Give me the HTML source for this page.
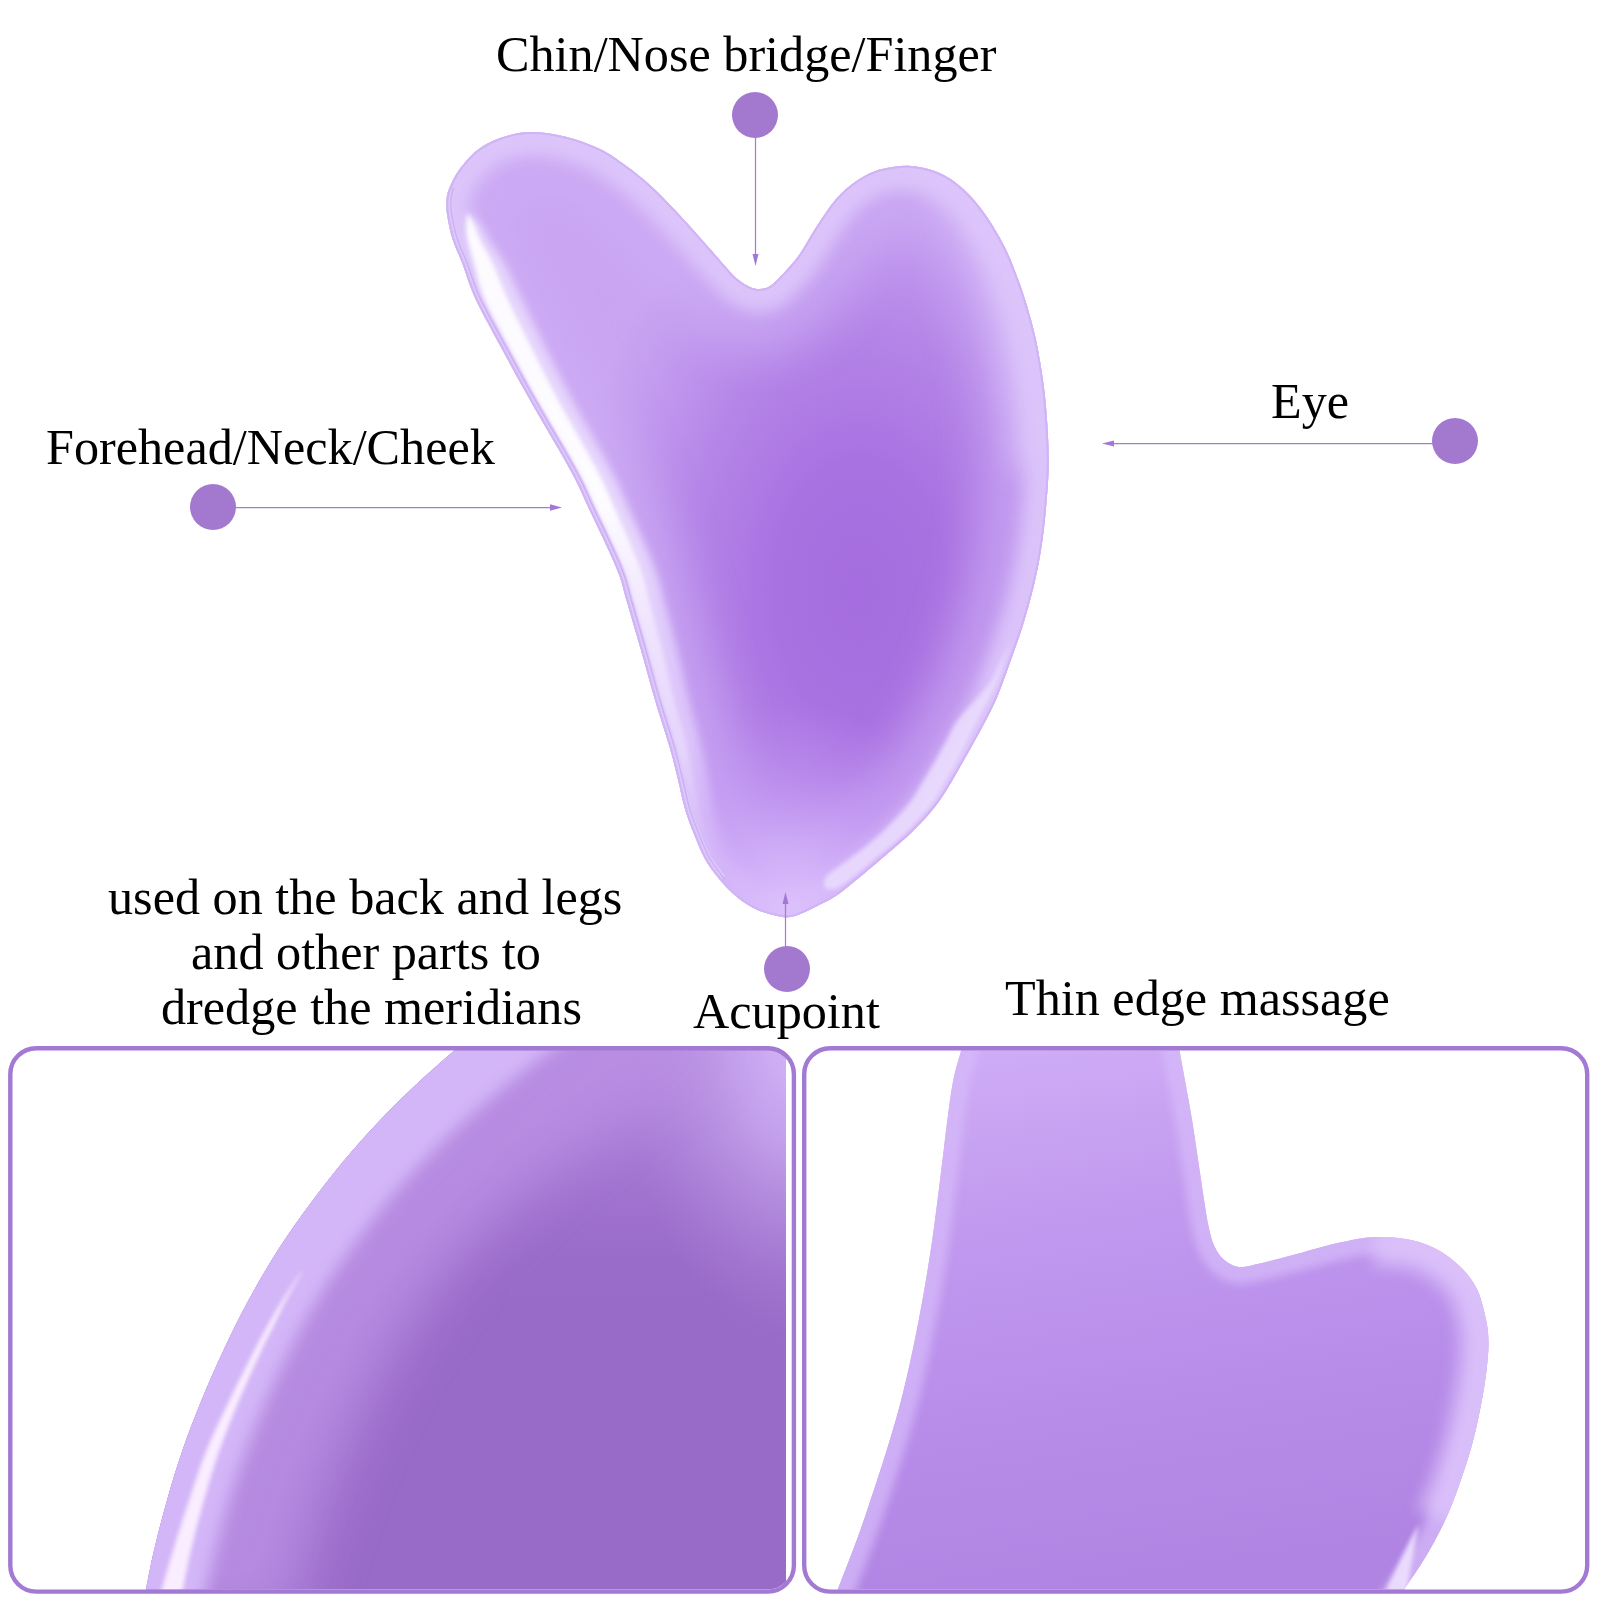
<!DOCTYPE html>
<html><head><meta charset="utf-8"><title>Gua Sha</title>
<style>
html,body{margin:0;padding:0;background:#fff;}
body{width:1600px;height:1600px;position:relative;overflow:hidden;font-family:"Liberation Serif",serif;}
svg{position:absolute;left:0;top:0;}
.t{position:absolute;font-size:50px;line-height:56px;color:#000;white-space:nowrap;transform:scale(1.004,1.025);transform-origin:0 45px;}
</style></head><body>
<svg width="1600" height="1600" viewBox="0 0 1600 1600">
<defs>
<radialGradient id="g1" gradientUnits="userSpaceOnUse" cx="860" cy="590" r="440" gradientTransform="translate(860 590) scale(0.66 1) translate(-860 -590)">
<stop offset="0" stop-color="#a56ddf"/><stop offset="0.3" stop-color="#a972e1"/><stop offset="0.6" stop-color="#b586e8"/><stop offset="0.85" stop-color="#c39bef"/><stop offset="1" stop-color="#caa5f2"/>
</radialGradient>
<clipPath id="cm"><path d="M530.0 132.0C540.8 131.8 553.3 133.7 565.0 136.5C576.7 139.3 590.0 144.2 600.0 149.0C610.0 153.8 616.7 159.0 625.0 165.0C633.3 171.0 641.7 177.5 650.0 185.0C658.3 192.5 666.7 201.2 675.0 210.0C683.3 218.8 691.7 228.2 700.0 237.5C708.3 246.8 718.8 259.1 725.0 266.0C731.2 272.9 733.3 275.5 737.5 279.0C741.7 282.5 746.2 285.3 750.0 287.0C753.8 288.7 756.7 289.2 760.0 289.0C763.3 288.8 766.5 288.2 770.0 286.0C773.5 283.8 776.2 281.2 781.0 276.0C785.8 270.8 792.9 263.5 799.0 255.0C805.1 246.5 811.3 234.3 817.5 225.0C823.7 215.7 829.8 206.2 836.0 199.0C842.2 191.8 848.7 186.6 855.0 182.0C861.3 177.4 867.8 174.0 874.0 171.5C880.2 169.0 886.3 167.9 892.5 167.0C898.7 166.1 904.8 165.6 911.0 166.0C917.2 166.4 923.7 167.5 930.0 169.5C936.3 171.5 942.8 174.1 949.0 178.0C955.2 181.9 961.3 186.8 967.5 193.0C973.7 199.2 979.8 206.4 986.0 215.5C992.2 224.6 999.7 236.9 1005.0 247.5C1010.3 258.1 1014.2 269.0 1018.0 279.0C1021.8 289.0 1024.7 298.1 1027.5 307.5C1030.3 316.9 1032.8 326.1 1035.0 335.5C1037.2 344.9 1038.9 354.6 1040.5 364.0C1042.1 373.4 1043.4 382.7 1044.5 392.0C1045.6 401.3 1046.3 410.3 1047.0 420.0C1047.7 429.7 1048.3 440.8 1048.5 450.0C1048.7 459.2 1048.9 464.6 1048.4 475.0C1047.9 485.4 1046.8 500.0 1045.6 512.5C1044.4 525.0 1043.0 537.5 1041.0 550.0C1039.0 562.5 1036.4 575.0 1033.4 587.5C1030.4 600.0 1026.9 612.5 1023.0 625.0C1019.1 637.5 1014.2 650.8 1010.0 662.5C1005.8 674.2 1002.0 685.4 998.0 695.0C994.0 704.6 991.7 709.2 986.0 720.0C980.3 730.8 971.7 746.7 964.0 760.0C956.3 773.3 948.3 788.3 940.0 800.0C931.7 811.7 924.0 820.0 914.0 830.0C904.0 840.0 892.3 849.5 880.0 860.0C867.7 870.5 849.8 885.7 840.0 893.0C830.2 900.3 827.2 900.7 821.0 904.0C814.8 907.3 807.7 910.8 802.5 913.0C797.3 915.2 794.2 916.5 790.0 917.0C785.8 917.5 782.9 917.2 777.5 916.0C772.1 914.8 764.2 913.1 757.5 910.0C750.8 906.9 743.8 902.5 737.5 897.5C731.2 892.5 725.4 886.4 720.0 880.0C714.6 873.6 709.3 866.7 705.0 859.0C700.7 851.3 697.3 842.3 694.0 834.0C690.7 825.7 687.8 818.4 685.0 809.0C682.2 799.6 680.2 788.2 677.5 777.5C674.8 766.8 672.8 757.9 669.0 745.0C665.2 732.1 659.7 715.8 655.0 700.0C650.3 684.2 645.7 666.3 641.0 650.0C636.3 633.7 630.7 614.7 627.0 602.0C623.3 589.3 622.5 583.9 618.8 574.0C615.1 564.1 609.8 553.0 605.0 542.5C600.2 532.0 594.9 521.4 590.0 511.0C585.1 500.6 580.8 490.2 575.6 480.0C570.4 469.8 566.6 463.3 559.0 450.0C551.4 436.7 539.4 416.7 530.0 400.0C520.6 383.3 511.5 366.7 502.5 350.0C493.5 333.3 482.7 314.3 476.0 300.0C469.3 285.7 466.4 274.2 462.5 264.0C458.6 253.8 455.1 247.3 452.5 239.0C449.9 230.7 448.0 220.3 447.0 214.0C446.0 207.7 446.2 205.2 446.5 201.0C446.8 196.8 446.9 194.2 449.0 189.0C451.1 183.8 454.2 176.5 459.0 170.0C463.8 163.5 470.7 155.3 477.5 150.0C484.3 144.7 491.2 141.0 500.0 138.0C508.8 135.0 519.2 132.2 530.0 132.0Z"/></clipPath>
<filter id="bl8" filterUnits="userSpaceOnUse" x="-100" y="-100" width="1800" height="1800"><feGaussianBlur stdDeviation="8"/></filter>
<filter id="bl4" filterUnits="userSpaceOnUse" x="-100" y="-100" width="1800" height="1800"><feGaussianBlur stdDeviation="4"/></filter>
<filter id="bl2" filterUnits="userSpaceOnUse" x="-100" y="-100" width="1800" height="1800"><feGaussianBlur stdDeviation="2"/></filter>
<filter id="bl22" filterUnits="userSpaceOnUse" x="-100" y="-100" width="1800" height="1800"><feGaussianBlur stdDeviation="22"/></filter>
<filter id="bl14" filterUnits="userSpaceOnUse" x="-100" y="-100" width="1800" height="1800"><feGaussianBlur stdDeviation="14"/></filter>
<clipPath id="cb1"><path d="M640.0 930.0C627.5 936.3 587.5 954.7 565.0 968.0C542.5 981.3 523.3 996.3 505.0 1010.0C486.7 1023.7 472.5 1035.0 455.0 1050.0C437.5 1065.0 417.0 1083.3 400.0 1100.0C383.0 1116.7 367.5 1133.3 353.0 1150.0C338.5 1166.7 325.5 1183.3 313.0 1200.0C300.5 1216.7 288.7 1233.3 278.0 1250.0C267.3 1266.7 257.7 1283.3 248.6 1300.0C239.5 1316.7 231.4 1333.3 223.6 1350.0C215.8 1366.7 208.4 1383.3 201.6 1400.0C194.8 1416.7 188.3 1433.3 182.6 1450.0C176.8 1466.7 171.8 1483.3 167.1 1500.0C162.3 1516.7 157.6 1535.2 154.1 1550.0C150.6 1564.8 147.8 1580.1 146.0 1588.8C144.2 1597.4 143.8 1599.8 143.3 1602.0L800 1602L800 930Z"/></clipPath>
<clipPath id="cb2"><path d="M975.0 1000.0C973.5 1005.0 968.3 1021.6 966.0 1030.0C963.7 1038.4 963.3 1042.4 961.2 1050.3C959.2 1058.2 956.0 1066.7 953.8 1077.5C951.5 1088.3 949.7 1102.5 948.0 1115.0C946.3 1127.5 944.9 1140.0 943.4 1152.5C941.9 1165.0 940.3 1177.5 938.8 1190.0C937.2 1202.5 935.7 1215.0 934.0 1227.5C932.3 1240.0 930.4 1252.5 928.4 1265.0C926.4 1277.5 924.4 1289.5 922.0 1302.5C919.6 1315.5 917.4 1327.8 914.2 1343.0C911.0 1358.2 906.9 1377.5 902.8 1393.8C898.7 1410.0 894.4 1425.0 889.7 1440.6C885.0 1456.2 879.9 1471.9 874.7 1487.5C869.5 1503.1 864.9 1517.5 858.8 1534.4C852.6 1551.3 844.8 1571.2 838.0 1588.8C831.2 1606.3 821.3 1631.5 818.0 1640.0L1368.0 1640.0C1374.0 1631.6 1394.4 1603.2 1404.0 1589.4C1413.6 1575.6 1418.8 1568.3 1425.5 1557.0C1432.2 1545.7 1439.0 1533.5 1444.5 1521.7C1450.0 1509.9 1454.2 1498.7 1458.8 1486.0C1463.3 1473.3 1468.3 1458.3 1471.8 1445.6C1475.3 1432.9 1477.6 1421.9 1480.0 1410.0C1482.4 1398.1 1484.6 1385.5 1486.0 1374.4C1487.4 1363.3 1488.5 1352.6 1488.5 1343.5C1488.5 1334.4 1487.8 1328.5 1486.0 1319.8C1484.2 1311.0 1481.5 1299.3 1477.8 1291.0C1474.0 1282.7 1469.8 1276.7 1463.5 1270.0C1457.2 1263.3 1448.5 1255.9 1439.8 1250.9C1431.0 1245.9 1421.7 1242.3 1411.0 1240.0C1400.3 1237.7 1387.4 1236.6 1375.6 1237.0C1363.8 1237.4 1354.1 1239.5 1340.0 1242.6C1325.9 1245.7 1305.0 1252.0 1291.2 1255.6C1277.5 1259.2 1266.2 1262.1 1257.5 1264.0C1248.8 1265.9 1244.4 1267.7 1238.8 1266.9C1233.1 1266.1 1227.8 1262.8 1223.8 1259.4C1219.7 1256.0 1216.9 1251.6 1214.4 1246.2C1211.9 1240.9 1210.5 1235.3 1208.8 1227.5C1207.0 1219.7 1205.7 1210.3 1204.0 1199.4C1202.3 1188.5 1200.3 1174.5 1198.4 1162.0C1196.5 1149.5 1194.8 1136.9 1192.8 1124.4C1190.8 1111.9 1188.4 1099.2 1186.2 1087.0C1184.1 1074.8 1182.2 1065.8 1179.7 1051.2C1177.2 1036.8 1172.5 1008.5 1171.0 1000.0Z"/></clipPath>
<filter id="bl30" filterUnits="userSpaceOnUse" x="-100" y="-100" width="1800" height="1800"><feGaussianBlur stdDeviation="30"/></filter>
<clipPath id="c1"><rect x="12.3" y="1050.2" width="779.6" height="539.4" rx="24"/></clipPath>
<clipPath id="c1b"><rect x="0" y="1040" width="786" height="560"/></clipPath>
<clipPath id="c2"><rect x="806.2" y="1050.2" width="779" height="539.4" rx="24"/></clipPath>
<radialGradient id="g2" gradientUnits="userSpaceOnUse" cx="620" cy="1420" r="420">
<stop offset="0" stop-color="#986ac7"/><stop offset="0.55" stop-color="#9e70cd"/><stop offset="0.85" stop-color="#b68ae0"/><stop offset="1" stop-color="#c9a6f0"/>
</radialGradient>
<linearGradient id="g3" gradientUnits="userSpaceOnUse" x1="1000" y1="1050" x2="1080" y2="1590">
<stop offset="0" stop-color="#cfacf6"/><stop offset="0.3" stop-color="#c29aef"/><stop offset="0.65" stop-color="#b88dea"/><stop offset="1" stop-color="#b084e2"/>
</linearGradient>
<linearGradient id="tb1" gradientUnits="userSpaceOnUse" x1="0" y1="1050" x2="0" y2="1300">
<stop offset="0" stop-color="#ba90e4" stop-opacity="1"/><stop offset="0.35" stop-color="#ae82da" stop-opacity="0.8"/><stop offset="1" stop-color="#9d6fcd" stop-opacity="0"/>
</linearGradient>
<radialGradient id="tr1" gradientUnits="userSpaceOnUse" cx="800" cy="1040" r="300" gradientTransform="translate(800 1040) scale(0.6 1) translate(-800 -1040)">
<stop offset="0" stop-color="#d4b6f8" stop-opacity="1"/><stop offset="0.35" stop-color="#caa8f0" stop-opacity="0.8"/><stop offset="1" stop-color="#b088dc" stop-opacity="0"/>
</radialGradient>
<radialGradient id="bg1"><stop offset="0" stop-color="#dcc2fc" stop-opacity="0.95"/><stop offset="0.3" stop-color="#d4b4fa" stop-opacity="0.75"/><stop offset="0.65" stop-color="#c79ef5" stop-opacity="0.4"/><stop offset="1" stop-color="#bd8ff0" stop-opacity="0"/></radialGradient>
<linearGradient id="lb1" gradientUnits="userSpaceOnUse" x1="0" y1="200" x2="0" y2="880">
<stop offset="0" stop-color="#fff" stop-opacity="0.9"/><stop offset="0.45" stop-color="#fff" stop-opacity="0.92"/><stop offset="0.62" stop-color="#f6eeff" stop-opacity="0.7"/><stop offset="0.8" stop-color="#eee2fe" stop-opacity="0.55"/><stop offset="1" stop-color="#eadcfd" stop-opacity="0.5"/>
</linearGradient>
<linearGradient id="lb2" gradientUnits="userSpaceOnUse" x1="0" y1="200" x2="0" y2="880">
<stop offset="0" stop-color="#e9dafd" stop-opacity="0.9"/><stop offset="0.5" stop-color="#e9dafd" stop-opacity="0.9"/><stop offset="0.75" stop-color="#dfcafb" stop-opacity="0.8"/><stop offset="1" stop-color="#dcc4fb" stop-opacity="0.7"/>
</linearGradient>
</defs>
<!-- main shape -->
<path d="M530.0 132.0C540.8 131.8 553.3 133.7 565.0 136.5C576.7 139.3 590.0 144.2 600.0 149.0C610.0 153.8 616.7 159.0 625.0 165.0C633.3 171.0 641.7 177.5 650.0 185.0C658.3 192.5 666.7 201.2 675.0 210.0C683.3 218.8 691.7 228.2 700.0 237.5C708.3 246.8 718.8 259.1 725.0 266.0C731.2 272.9 733.3 275.5 737.5 279.0C741.7 282.5 746.2 285.3 750.0 287.0C753.8 288.7 756.7 289.2 760.0 289.0C763.3 288.8 766.5 288.2 770.0 286.0C773.5 283.8 776.2 281.2 781.0 276.0C785.8 270.8 792.9 263.5 799.0 255.0C805.1 246.5 811.3 234.3 817.5 225.0C823.7 215.7 829.8 206.2 836.0 199.0C842.2 191.8 848.7 186.6 855.0 182.0C861.3 177.4 867.8 174.0 874.0 171.5C880.2 169.0 886.3 167.9 892.5 167.0C898.7 166.1 904.8 165.6 911.0 166.0C917.2 166.4 923.7 167.5 930.0 169.5C936.3 171.5 942.8 174.1 949.0 178.0C955.2 181.9 961.3 186.8 967.5 193.0C973.7 199.2 979.8 206.4 986.0 215.5C992.2 224.6 999.7 236.9 1005.0 247.5C1010.3 258.1 1014.2 269.0 1018.0 279.0C1021.8 289.0 1024.7 298.1 1027.5 307.5C1030.3 316.9 1032.8 326.1 1035.0 335.5C1037.2 344.9 1038.9 354.6 1040.5 364.0C1042.1 373.4 1043.4 382.7 1044.5 392.0C1045.6 401.3 1046.3 410.3 1047.0 420.0C1047.7 429.7 1048.3 440.8 1048.5 450.0C1048.7 459.2 1048.9 464.6 1048.4 475.0C1047.9 485.4 1046.8 500.0 1045.6 512.5C1044.4 525.0 1043.0 537.5 1041.0 550.0C1039.0 562.5 1036.4 575.0 1033.4 587.5C1030.4 600.0 1026.9 612.5 1023.0 625.0C1019.1 637.5 1014.2 650.8 1010.0 662.5C1005.8 674.2 1002.0 685.4 998.0 695.0C994.0 704.6 991.7 709.2 986.0 720.0C980.3 730.8 971.7 746.7 964.0 760.0C956.3 773.3 948.3 788.3 940.0 800.0C931.7 811.7 924.0 820.0 914.0 830.0C904.0 840.0 892.3 849.5 880.0 860.0C867.7 870.5 849.8 885.7 840.0 893.0C830.2 900.3 827.2 900.7 821.0 904.0C814.8 907.3 807.7 910.8 802.5 913.0C797.3 915.2 794.2 916.5 790.0 917.0C785.8 917.5 782.9 917.2 777.5 916.0C772.1 914.8 764.2 913.1 757.5 910.0C750.8 906.9 743.8 902.5 737.5 897.5C731.2 892.5 725.4 886.4 720.0 880.0C714.6 873.6 709.3 866.7 705.0 859.0C700.7 851.3 697.3 842.3 694.0 834.0C690.7 825.7 687.8 818.4 685.0 809.0C682.2 799.6 680.2 788.2 677.5 777.5C674.8 766.8 672.8 757.9 669.0 745.0C665.2 732.1 659.7 715.8 655.0 700.0C650.3 684.2 645.7 666.3 641.0 650.0C636.3 633.7 630.7 614.7 627.0 602.0C623.3 589.3 622.5 583.9 618.8 574.0C615.1 564.1 609.8 553.0 605.0 542.5C600.2 532.0 594.9 521.4 590.0 511.0C585.1 500.6 580.8 490.2 575.6 480.0C570.4 469.8 566.6 463.3 559.0 450.0C551.4 436.7 539.4 416.7 530.0 400.0C520.6 383.3 511.5 366.7 502.5 350.0C493.5 333.3 482.7 314.3 476.0 300.0C469.3 285.7 466.4 274.2 462.5 264.0C458.6 253.8 455.1 247.3 452.5 239.0C449.9 230.7 448.0 220.3 447.0 214.0C446.0 207.7 446.2 205.2 446.5 201.0C446.8 196.8 446.9 194.2 449.0 189.0C451.1 183.8 454.2 176.5 459.0 170.0C463.8 163.5 470.7 155.3 477.5 150.0C484.3 144.7 491.2 141.0 500.0 138.0C508.8 135.0 519.2 132.2 530.0 132.0Z" fill="url(#g1)"/>
<g clip-path="url(#cm)">
<path d="M530.0 132.0C540.8 131.8 553.3 133.7 565.0 136.5C576.7 139.3 590.0 144.2 600.0 149.0C610.0 153.8 616.7 159.0 625.0 165.0C633.3 171.0 641.7 177.5 650.0 185.0C658.3 192.5 666.7 201.2 675.0 210.0C683.3 218.8 691.7 228.2 700.0 237.5C708.3 246.8 718.8 259.1 725.0 266.0C731.2 272.9 733.3 275.5 737.5 279.0C741.7 282.5 746.2 285.3 750.0 287.0C753.8 288.7 756.7 289.2 760.0 289.0C763.3 288.8 766.5 288.2 770.0 286.0C773.5 283.8 776.2 281.2 781.0 276.0C785.8 270.8 792.9 263.5 799.0 255.0C805.1 246.5 811.3 234.3 817.5 225.0C823.7 215.7 829.8 206.2 836.0 199.0C842.2 191.8 848.7 186.6 855.0 182.0C861.3 177.4 867.8 174.0 874.0 171.5C880.2 169.0 886.3 167.9 892.5 167.0C898.7 166.1 904.8 165.6 911.0 166.0C917.2 166.4 923.7 167.5 930.0 169.5C936.3 171.5 942.8 174.1 949.0 178.0C955.2 181.9 961.3 186.8 967.5 193.0C973.7 199.2 979.8 206.4 986.0 215.5C992.2 224.6 999.7 236.9 1005.0 247.5C1010.3 258.1 1014.2 269.0 1018.0 279.0C1021.8 289.0 1024.7 298.1 1027.5 307.5C1030.3 316.9 1032.8 326.1 1035.0 335.5C1037.2 344.9 1038.9 354.6 1040.5 364.0C1042.1 373.4 1043.4 382.7 1044.5 392.0C1045.6 401.3 1046.3 410.3 1047.0 420.0C1047.7 429.7 1048.3 440.8 1048.5 450.0C1048.7 459.2 1048.9 464.6 1048.4 475.0C1047.9 485.4 1046.8 500.0 1045.6 512.5C1044.4 525.0 1043.0 537.5 1041.0 550.0C1039.0 562.5 1036.4 575.0 1033.4 587.5C1030.4 600.0 1026.9 612.5 1023.0 625.0C1019.1 637.5 1014.2 650.8 1010.0 662.5C1005.8 674.2 1002.0 685.4 998.0 695.0C994.0 704.6 991.7 709.2 986.0 720.0C980.3 730.8 971.7 746.7 964.0 760.0C956.3 773.3 948.3 788.3 940.0 800.0C931.7 811.7 924.0 820.0 914.0 830.0C904.0 840.0 892.3 849.5 880.0 860.0C867.7 870.5 849.8 885.7 840.0 893.0C830.2 900.3 827.2 900.7 821.0 904.0C814.8 907.3 807.7 910.8 802.5 913.0C797.3 915.2 794.2 916.5 790.0 917.0C785.8 917.5 782.9 917.2 777.5 916.0C772.1 914.8 764.2 913.1 757.5 910.0C750.8 906.9 743.8 902.5 737.5 897.5C731.2 892.5 725.4 886.4 720.0 880.0C714.6 873.6 709.3 866.7 705.0 859.0C700.7 851.3 697.3 842.3 694.0 834.0C690.7 825.7 687.8 818.4 685.0 809.0C682.2 799.6 680.2 788.2 677.5 777.5C674.8 766.8 672.8 757.9 669.0 745.0C665.2 732.1 659.7 715.8 655.0 700.0C650.3 684.2 645.7 666.3 641.0 650.0C636.3 633.7 630.7 614.7 627.0 602.0C623.3 589.3 622.5 583.9 618.8 574.0C615.1 564.1 609.8 553.0 605.0 542.5C600.2 532.0 594.9 521.4 590.0 511.0C585.1 500.6 580.8 490.2 575.6 480.0C570.4 469.8 566.6 463.3 559.0 450.0C551.4 436.7 539.4 416.7 530.0 400.0C520.6 383.3 511.5 366.7 502.5 350.0C493.5 333.3 482.7 314.3 476.0 300.0C469.3 285.7 466.4 274.2 462.5 264.0C458.6 253.8 455.1 247.3 452.5 239.0C449.9 230.7 448.0 220.3 447.0 214.0C446.0 207.7 446.2 205.2 446.5 201.0C446.8 196.8 446.9 194.2 449.0 189.0C451.1 183.8 454.2 176.5 459.0 170.0C463.8 163.5 470.7 155.3 477.5 150.0C484.3 144.7 491.2 141.0 500.0 138.0C508.8 135.0 519.2 132.2 530.0 132.0Z" fill="none" stroke="#cfaff6" stroke-width="130" filter="url(#bl22)" opacity="0.6"/>
<path d="M530.0 132.0C540.8 131.8 553.3 133.7 565.0 136.5C576.7 139.3 590.0 144.2 600.0 149.0C610.0 153.8 616.7 159.0 625.0 165.0C633.3 171.0 641.7 177.5 650.0 185.0C658.3 192.5 666.7 201.2 675.0 210.0C683.3 218.8 691.7 228.2 700.0 237.5C708.3 246.8 718.8 259.1 725.0 266.0C731.2 272.9 733.3 275.5 737.5 279.0C741.7 282.5 746.2 285.3 750.0 287.0C753.8 288.7 756.7 289.2 760.0 289.0C763.3 288.8 766.5 288.2 770.0 286.0C773.5 283.8 776.2 281.2 781.0 276.0C785.8 270.8 792.9 263.5 799.0 255.0C805.1 246.5 811.3 234.3 817.5 225.0C823.7 215.7 829.8 206.2 836.0 199.0C842.2 191.8 848.7 186.6 855.0 182.0C861.3 177.4 867.8 174.0 874.0 171.5C880.2 169.0 886.3 167.9 892.5 167.0C898.7 166.1 904.8 165.6 911.0 166.0C917.2 166.4 923.7 167.5 930.0 169.5C936.3 171.5 942.8 174.1 949.0 178.0C955.2 181.9 961.3 186.8 967.5 193.0C973.7 199.2 979.8 206.4 986.0 215.5C992.2 224.6 999.7 236.9 1005.0 247.5C1010.3 258.1 1014.2 269.0 1018.0 279.0C1021.8 289.0 1024.7 298.1 1027.5 307.5C1030.3 316.9 1032.8 326.1 1035.0 335.5C1037.2 344.9 1038.9 354.6 1040.5 364.0C1042.1 373.4 1043.4 382.7 1044.5 392.0C1045.6 401.3 1046.3 410.3 1047.0 420.0C1047.7 429.7 1048.3 440.8 1048.5 450.0C1048.7 459.2 1048.9 464.6 1048.4 475.0C1047.9 485.4 1046.8 500.0 1045.6 512.5C1044.4 525.0 1043.0 537.5 1041.0 550.0C1039.0 562.5 1036.4 575.0 1033.4 587.5C1030.4 600.0 1026.9 612.5 1023.0 625.0C1019.1 637.5 1014.2 650.8 1010.0 662.5C1005.8 674.2 1002.0 685.4 998.0 695.0C994.0 704.6 991.7 709.2 986.0 720.0C980.3 730.8 971.7 746.7 964.0 760.0C956.3 773.3 948.3 788.3 940.0 800.0C931.7 811.7 924.0 820.0 914.0 830.0C904.0 840.0 892.3 849.5 880.0 860.0C867.7 870.5 849.8 885.7 840.0 893.0C830.2 900.3 827.2 900.7 821.0 904.0C814.8 907.3 807.7 910.8 802.5 913.0C797.3 915.2 794.2 916.5 790.0 917.0C785.8 917.5 782.9 917.2 777.5 916.0C772.1 914.8 764.2 913.1 757.5 910.0C750.8 906.9 743.8 902.5 737.5 897.5C731.2 892.5 725.4 886.4 720.0 880.0C714.6 873.6 709.3 866.7 705.0 859.0C700.7 851.3 697.3 842.3 694.0 834.0C690.7 825.7 687.8 818.4 685.0 809.0C682.2 799.6 680.2 788.2 677.5 777.5C674.8 766.8 672.8 757.9 669.0 745.0C665.2 732.1 659.7 715.8 655.0 700.0C650.3 684.2 645.7 666.3 641.0 650.0C636.3 633.7 630.7 614.7 627.0 602.0C623.3 589.3 622.5 583.9 618.8 574.0C615.1 564.1 609.8 553.0 605.0 542.5C600.2 532.0 594.9 521.4 590.0 511.0C585.1 500.6 580.8 490.2 575.6 480.0C570.4 469.8 566.6 463.3 559.0 450.0C551.4 436.7 539.4 416.7 530.0 400.0C520.6 383.3 511.5 366.7 502.5 350.0C493.5 333.3 482.7 314.3 476.0 300.0C469.3 285.7 466.4 274.2 462.5 264.0C458.6 253.8 455.1 247.3 452.5 239.0C449.9 230.7 448.0 220.3 447.0 214.0C446.0 207.7 446.2 205.2 446.5 201.0C446.8 196.8 446.9 194.2 449.0 189.0C451.1 183.8 454.2 176.5 459.0 170.0C463.8 163.5 470.7 155.3 477.5 150.0C484.3 144.7 491.2 141.0 500.0 138.0C508.8 135.0 519.2 132.2 530.0 132.0Z" fill="none" stroke="#dec8fb" stroke-width="46" filter="url(#bl8)" opacity="0.9"/>
<path d="M905 150C980 170 1030 300 1038 470" fill="none" stroke="#dcc5fa" stroke-width="50" filter="url(#bl14)" opacity="0.75"/>
<path d="M467.5 214.0C467.3 216.0 466.5 221.8 466.5 226.0C466.5 230.2 466.3 232.7 467.6 239.0C468.9 245.3 471.3 253.8 474.2 264.0C477.1 274.2 478.9 285.7 485.0 300.0C491.1 314.3 501.8 333.3 510.5 350.0C519.2 366.7 527.8 383.3 537.0 400.0C546.2 416.7 558.4 436.7 566.0 450.0C573.6 463.3 577.4 469.8 582.6 480.0C587.8 490.2 592.1 500.6 596.9 511.0C601.8 521.4 607.0 532.0 611.7 542.5C616.4 553.0 621.7 564.1 625.3 574.0C628.9 583.9 629.7 589.3 633.3 602.0C636.9 614.7 642.4 633.7 647.0 650.0C651.6 666.3 656.3 684.2 661.0 700.0C665.7 715.8 671.2 732.1 675.0 745.0C678.8 757.9 680.8 766.8 683.5 777.5C686.2 788.2 688.3 799.6 691.1 809.0C694.0 818.4 697.0 825.7 700.5 834.0C703.9 842.3 708.8 853.0 711.8 859.0C714.9 865.0 717.8 868.2 719.0 870.0L724.0 870.0C723.3 868.2 721.1 865.0 719.5 859.0C717.9 853.0 715.7 842.3 714.2 834.0C712.8 825.7 712.2 818.4 710.9 809.0C709.7 799.6 708.5 788.2 706.7 777.5C704.9 766.8 703.0 757.9 699.9 745.0C696.9 732.1 692.2 715.8 688.3 700.0C684.5 684.2 681.0 666.3 677.0 650.0C673.0 633.7 667.6 614.7 664.3 602.0C660.9 589.3 660.2 583.9 656.8 574.0C653.4 564.1 648.4 553.0 643.9 542.5C639.3 532.0 634.4 521.4 629.7 511.0C625.1 500.6 621.0 490.2 616.0 480.0C611.0 469.8 607.3 463.3 600.0 450.0C592.7 436.7 580.9 416.7 572.0 400.0C563.1 383.3 554.8 366.7 546.5 350.0C538.2 333.3 528.9 314.3 522.0 300.0C515.1 285.7 510.5 274.2 504.9 264.0C499.3 253.8 492.2 245.3 488.3 239.0C484.4 232.7 484.6 230.2 481.5 226.0C478.4 221.8 471.5 216.0 469.5 214.0Z" fill="url(#lb2)" filter="url(#bl4)"/>
<path d="M467.5 214.0C467.3 216.0 466.5 221.8 466.5 226.0C466.5 230.2 466.3 232.7 467.6 239.0C468.9 245.3 471.3 253.8 474.2 264.0C477.1 274.2 478.9 285.7 485.0 300.0C491.1 314.3 501.8 333.3 510.5 350.0C519.2 366.7 527.8 383.3 537.0 400.0C546.2 416.7 558.4 436.7 566.0 450.0C573.6 463.3 577.4 469.8 582.6 480.0C587.8 490.2 592.1 500.6 596.9 511.0C601.8 521.4 607.0 532.0 611.7 542.5C616.4 553.0 621.7 564.1 625.3 574.0C628.9 583.9 629.7 589.3 633.3 602.0C636.9 614.7 642.4 633.7 647.0 650.0C651.6 666.3 656.3 684.2 661.0 700.0C665.7 715.8 671.2 732.1 675.0 745.0C678.8 757.9 680.8 766.8 683.5 777.5C686.2 788.2 688.3 799.6 691.1 809.0C694.0 818.4 697.0 825.7 700.5 834.0C703.9 842.3 708.8 853.0 711.8 859.0C714.9 865.0 717.8 868.2 719.0 870.0L721.0 870.0C720.0 868.2 717.4 865.0 714.9 859.0C712.5 853.0 708.7 842.3 706.1 834.0C703.5 825.7 701.3 818.4 699.2 809.0C697.1 799.6 695.6 788.2 693.4 777.5C691.2 766.8 689.4 757.9 686.2 745.0C683.0 732.1 678.0 715.8 674.0 700.0C670.0 684.2 666.1 666.3 662.0 650.0C657.9 633.7 652.9 614.7 649.6 602.0C646.3 589.3 645.7 583.9 642.3 574.0C639.0 564.1 634.0 553.0 629.6 542.5C625.1 532.0 620.2 521.4 615.6 511.0C611.0 500.6 606.9 490.2 602.0 480.0C597.1 469.8 593.3 463.3 586.0 450.0C578.7 436.7 566.9 416.7 558.0 400.0C549.1 383.3 540.8 366.7 532.5 350.0C524.2 333.3 514.6 314.3 508.0 300.0C501.4 285.7 497.5 274.2 492.7 264.0C487.9 253.8 482.4 245.3 479.4 239.0C476.4 232.7 476.3 230.2 474.5 226.0C472.7 221.8 469.5 216.0 468.5 214.0Z" fill="url(#lb1)" filter="url(#bl2)"/>
<ellipse cx="790" cy="915" rx="170" ry="215" fill="url(#bg1)"/>
<path d="M1010.0 645.0C1009.0 647.9 1006.0 656.7 1004.0 662.5C1002.0 668.3 1000.1 674.6 998.0 680.0C995.9 685.4 994.6 688.3 991.2 695.0C987.9 701.7 981.9 712.5 978.0 720.0C974.1 727.5 971.3 733.3 968.0 740.0C964.7 746.7 961.6 753.3 958.0 760.0C954.4 766.7 950.3 773.3 946.5 780.0C942.7 786.7 939.1 794.0 935.0 800.0C930.9 806.0 926.3 811.0 922.0 816.0C917.7 821.0 913.9 825.2 909.0 830.0C904.1 834.8 898.6 840.0 892.9 845.0C887.1 850.0 880.9 854.7 874.5 860.0C868.0 865.3 860.2 872.2 854.0 877.0C847.8 881.8 839.8 887.0 837.0 889.0L825.0 889.0C825.2 887.0 822.2 881.8 826.0 877.0C829.8 872.2 840.9 865.3 847.8 860.0C854.7 854.7 861.3 850.0 867.5 845.0C873.6 840.0 879.4 834.8 884.5 830.0C889.6 825.2 893.6 821.0 898.2 816.0C902.8 811.0 907.7 806.0 912.0 800.0C916.3 794.0 920.0 786.7 924.0 780.0C928.0 773.3 932.2 766.7 936.0 760.0C939.8 753.3 943.3 746.7 947.0 740.0C950.7 733.3 952.5 727.5 958.0 720.0C963.5 712.5 974.3 701.7 980.0 695.0C985.7 688.3 988.6 685.4 992.0 680.0C995.4 674.6 997.7 668.3 1000.5 662.5C1003.3 656.7 1007.6 647.9 1009.0 645.0Z" fill="#eadbfd" filter="url(#bl2)" opacity="0.9"/>
<path d="M449.0 189.0C448.6 191.0 446.8 196.8 446.5 201.0C446.2 205.2 446.0 207.7 447.0 214.0C448.0 220.3 449.9 230.7 452.5 239.0C455.1 247.3 458.6 253.8 462.5 264.0C466.4 274.2 469.3 285.7 476.0 300.0C482.7 314.3 493.5 333.3 502.5 350.0C511.5 366.7 520.6 383.3 530.0 400.0C539.4 416.7 551.4 436.7 559.0 450.0C566.6 463.3 570.4 469.8 575.6 480.0C580.8 490.2 585.1 500.6 590.0 511.0C594.9 521.4 600.2 532.0 605.0 542.5C609.8 553.0 615.1 564.1 618.8 574.0C622.5 583.9 623.3 589.3 627.0 602.0C630.7 614.7 636.3 633.7 641.0 650.0C645.7 666.3 650.3 684.2 655.0 700.0C659.7 715.8 665.2 732.1 669.0 745.0C672.8 757.9 674.8 766.8 677.5 777.5C680.2 788.2 682.2 799.6 685.0 809.0C687.8 818.4 690.7 825.7 694.0 834.0C697.3 842.3 700.7 851.3 705.0 859.0C709.3 866.7 717.5 876.5 720.0 880.0" fill="none" stroke="#dcc8f9" stroke-width="13" opacity="0.95"/>
<path d="M449.0 189.0C448.6 191.0 446.8 196.8 446.5 201.0C446.2 205.2 446.0 207.7 447.0 214.0C448.0 220.3 449.9 230.7 452.5 239.0C455.1 247.3 458.6 253.8 462.5 264.0C466.4 274.2 469.3 285.7 476.0 300.0C482.7 314.3 493.5 333.3 502.5 350.0C511.5 366.7 520.6 383.3 530.0 400.0C539.4 416.7 551.4 436.7 559.0 450.0C566.6 463.3 570.4 469.8 575.6 480.0C580.8 490.2 585.1 500.6 590.0 511.0C594.9 521.4 600.2 532.0 605.0 542.5C609.8 553.0 615.1 564.1 618.8 574.0C622.5 583.9 623.3 589.3 627.0 602.0C630.7 614.7 636.3 633.7 641.0 650.0C645.7 666.3 650.3 684.2 655.0 700.0C659.7 715.8 665.2 732.1 669.0 745.0C672.8 757.9 674.8 766.8 677.5 777.5C680.2 788.2 682.2 799.6 685.0 809.0C687.8 818.4 690.7 825.7 694.0 834.0C697.3 842.3 700.7 851.3 705.0 859.0C709.3 866.7 717.5 876.5 720.0 880.0" fill="none" stroke="#c8acf1" stroke-width="1.3" transform="translate(4.5,-1)" opacity="0.9"/>
<path d="M530.0 132.0C540.8 131.8 553.3 133.7 565.0 136.5C576.7 139.3 590.0 144.2 600.0 149.0C610.0 153.8 616.7 159.0 625.0 165.0C633.3 171.0 641.7 177.5 650.0 185.0C658.3 192.5 666.7 201.2 675.0 210.0C683.3 218.8 691.7 228.2 700.0 237.5C708.3 246.8 718.8 259.1 725.0 266.0C731.2 272.9 733.3 275.5 737.5 279.0C741.7 282.5 746.2 285.3 750.0 287.0C753.8 288.7 756.7 289.2 760.0 289.0C763.3 288.8 766.5 288.2 770.0 286.0C773.5 283.8 776.2 281.2 781.0 276.0C785.8 270.8 792.9 263.5 799.0 255.0C805.1 246.5 811.3 234.3 817.5 225.0C823.7 215.7 829.8 206.2 836.0 199.0C842.2 191.8 848.7 186.6 855.0 182.0C861.3 177.4 867.8 174.0 874.0 171.5C880.2 169.0 886.3 167.9 892.5 167.0C898.7 166.1 904.8 165.6 911.0 166.0C917.2 166.4 923.7 167.5 930.0 169.5C936.3 171.5 942.8 174.1 949.0 178.0C955.2 181.9 961.3 186.8 967.5 193.0C973.7 199.2 979.8 206.4 986.0 215.5C992.2 224.6 999.7 236.9 1005.0 247.5C1010.3 258.1 1014.2 269.0 1018.0 279.0C1021.8 289.0 1024.7 298.1 1027.5 307.5C1030.3 316.9 1032.8 326.1 1035.0 335.5C1037.2 344.9 1038.9 354.6 1040.5 364.0C1042.1 373.4 1043.4 382.7 1044.5 392.0C1045.6 401.3 1046.3 410.3 1047.0 420.0C1047.7 429.7 1048.3 440.8 1048.5 450.0C1048.7 459.2 1048.9 464.6 1048.4 475.0C1047.9 485.4 1046.8 500.0 1045.6 512.5C1044.4 525.0 1043.0 537.5 1041.0 550.0C1039.0 562.5 1036.4 575.0 1033.4 587.5C1030.4 600.0 1026.9 612.5 1023.0 625.0C1019.1 637.5 1014.2 650.8 1010.0 662.5C1005.8 674.2 1002.0 685.4 998.0 695.0C994.0 704.6 991.7 709.2 986.0 720.0C980.3 730.8 971.7 746.7 964.0 760.0C956.3 773.3 948.3 788.3 940.0 800.0C931.7 811.7 924.0 820.0 914.0 830.0C904.0 840.0 892.3 849.5 880.0 860.0C867.7 870.5 849.8 885.7 840.0 893.0C830.2 900.3 827.2 900.7 821.0 904.0C814.8 907.3 807.7 910.8 802.5 913.0C797.3 915.2 794.2 916.5 790.0 917.0C785.8 917.5 782.9 917.2 777.5 916.0C772.1 914.8 764.2 913.1 757.5 910.0C750.8 906.9 743.8 902.5 737.5 897.5C731.2 892.5 725.4 886.4 720.0 880.0C714.6 873.6 709.3 866.7 705.0 859.0C700.7 851.3 697.3 842.3 694.0 834.0C690.7 825.7 687.8 818.4 685.0 809.0C682.2 799.6 680.2 788.2 677.5 777.5C674.8 766.8 672.8 757.9 669.0 745.0C665.2 732.1 659.7 715.8 655.0 700.0C650.3 684.2 645.7 666.3 641.0 650.0C636.3 633.7 630.7 614.7 627.0 602.0C623.3 589.3 622.5 583.9 618.8 574.0C615.1 564.1 609.8 553.0 605.0 542.5C600.2 532.0 594.9 521.4 590.0 511.0C585.1 500.6 580.8 490.2 575.6 480.0C570.4 469.8 566.6 463.3 559.0 450.0C551.4 436.7 539.4 416.7 530.0 400.0C520.6 383.3 511.5 366.7 502.5 350.0C493.5 333.3 482.7 314.3 476.0 300.0C469.3 285.7 466.4 274.2 462.5 264.0C458.6 253.8 455.1 247.3 452.5 239.0C449.9 230.7 448.0 220.3 447.0 214.0C446.0 207.7 446.2 205.2 446.5 201.0C446.8 196.8 446.9 194.2 449.0 189.0C451.1 183.8 454.2 176.5 459.0 170.0C463.8 163.5 470.7 155.3 477.5 150.0C484.3 144.7 491.2 141.0 500.0 138.0C508.8 135.0 519.2 132.2 530.0 132.0Z" fill="none" stroke="#d0b4f5" stroke-width="4"/>
</g>
<!-- annotations -->
<g fill="#a379d0" stroke="none">
<circle cx="755" cy="115" r="23"/><circle cx="213" cy="507" r="23"/><circle cx="1455" cy="441" r="23"/><circle cx="787" cy="969" r="23"/>
</g>
<g stroke="#a57bd8" stroke-width="1.25" fill="#a178d5">
<line x1="755.5" y1="137" x2="755.5" y2="256"/><path d="M752.5 254L758.5 254L755.5 266Z" stroke="none"/>
<line x1="235" y1="507.5" x2="552" y2="507.5"/><path d="M550 504.3L550 510.7L562 507.5Z" stroke="none"/>
<line x1="1433" y1="443.5" x2="1112" y2="443.5"/><path d="M1114 440.5L1114 446.5L1102 443.5Z" stroke="none"/>
<line x1="785.5" y1="947" x2="785.5" y2="902"/><path d="M782.5 904L788.5 904L785.5 892Z" stroke="none"/>
</g>
<!-- box 1 -->
<g clip-path="url(#c1b)"><g clip-path="url(#c1)">
<g clip-path="url(#cb1)">
<rect x="0" y="1040" width="800" height="560" fill="#996bc8"/>
<rect x="0" y="1040" width="800" height="560" fill="url(#tb1)"/>
<rect x="0" y="1040" width="800" height="560" fill="url(#tr1)"/>
<path d="M640.0 930.0C627.5 936.3 587.5 954.7 565.0 968.0C542.5 981.3 523.3 996.3 505.0 1010.0C486.7 1023.7 472.5 1035.0 455.0 1050.0C437.5 1065.0 417.0 1083.3 400.0 1100.0C383.0 1116.7 367.5 1133.3 353.0 1150.0C338.5 1166.7 325.5 1183.3 313.0 1200.0C300.5 1216.7 288.7 1233.3 278.0 1250.0C267.3 1266.7 257.7 1283.3 248.6 1300.0C239.5 1316.7 231.4 1333.3 223.6 1350.0C215.8 1366.7 208.4 1383.3 201.6 1400.0C194.8 1416.7 188.3 1433.3 182.6 1450.0C176.8 1466.7 171.8 1483.3 167.1 1500.0C162.3 1516.7 157.6 1535.2 154.1 1550.0C150.6 1564.8 147.8 1580.1 146.0 1588.8C144.2 1597.4 143.8 1599.8 143.3 1602.0" fill="none" stroke="#b88de2" stroke-width="300" filter="url(#bl30)" opacity="0.95"/>
<path d="M640.0 930.0C627.5 936.3 587.5 954.7 565.0 968.0C542.5 981.3 523.3 996.3 505.0 1010.0C486.7 1023.7 472.5 1035.0 455.0 1050.0C437.5 1065.0 417.0 1083.3 400.0 1100.0C383.0 1116.7 367.5 1133.3 353.0 1150.0C338.5 1166.7 325.5 1183.3 313.0 1200.0C300.5 1216.7 288.7 1233.3 278.0 1250.0C267.3 1266.7 257.7 1283.3 248.6 1300.0C239.5 1316.7 231.4 1333.3 223.6 1350.0C215.8 1366.7 208.4 1383.3 201.6 1400.0C194.8 1416.7 188.3 1433.3 182.6 1450.0C176.8 1466.7 171.8 1483.3 167.1 1500.0C162.3 1516.7 157.6 1535.2 154.1 1550.0C150.6 1564.8 147.8 1580.1 146.0 1588.8C144.2 1597.4 143.8 1599.8 143.3 1602.0" fill="none" stroke="#d3b6f8" stroke-width="120" filter="url(#bl8)"/>
<path d="M301.0 1272.0C297.9 1276.7 288.0 1291.2 282.5 1300.0C277.0 1308.8 272.6 1316.7 268.0 1325.0C263.4 1333.3 261.0 1337.5 254.6 1350.0C248.2 1362.5 237.6 1383.3 229.6 1400.0C221.6 1416.7 213.3 1433.3 206.6 1450.0C199.8 1466.7 194.7 1483.3 189.1 1500.0C183.5 1516.7 177.7 1535.2 173.2 1550.0C168.6 1564.8 164.5 1580.1 162.0 1588.8C159.6 1597.4 158.9 1599.8 158.3 1602.0L180.3 1602.0C180.8 1599.8 181.2 1597.4 183.0 1588.8C184.8 1580.1 187.6 1564.8 191.1 1550.0C194.6 1535.2 199.3 1516.7 204.1 1500.0C208.8 1483.3 213.7 1466.7 219.6 1450.0C225.5 1433.3 232.3 1416.7 239.3 1400.0C246.3 1383.3 255.8 1362.5 261.6 1350.0C267.4 1337.5 269.9 1333.3 274.0 1325.0C278.1 1316.7 281.5 1308.8 286.1 1300.0C290.8 1291.2 299.4 1276.7 302.0 1272.0Z" fill="#fdf2ff" filter="url(#bl2)" opacity="0.92"/>
</g>
</g></g>
<!-- box 2 -->
<g clip-path="url(#c2)">
<g clip-path="url(#cb2)">
<rect x="800" y="1040" width="800" height="560" fill="url(#g3)"/>
<path d="M975.0 1000.0C973.5 1005.0 968.3 1021.6 966.0 1030.0C963.7 1038.4 963.3 1042.4 961.2 1050.3C959.2 1058.2 956.0 1066.7 953.8 1077.5C951.5 1088.3 949.7 1102.5 948.0 1115.0C946.3 1127.5 944.9 1140.0 943.4 1152.5C941.9 1165.0 940.3 1177.5 938.8 1190.0C937.2 1202.5 935.7 1215.0 934.0 1227.5C932.3 1240.0 930.4 1252.5 928.4 1265.0C926.4 1277.5 924.4 1289.5 922.0 1302.5C919.6 1315.5 917.4 1327.8 914.2 1343.0C911.0 1358.2 906.9 1377.5 902.8 1393.8C898.7 1410.0 894.4 1425.0 889.7 1440.6C885.0 1456.2 879.9 1471.9 874.7 1487.5C869.5 1503.1 864.9 1517.5 858.8 1534.4C852.6 1551.3 844.8 1571.2 838.0 1588.8C831.2 1606.3 821.3 1631.5 818.0 1640.0L1368.0 1640.0C1374.0 1631.6 1394.4 1603.2 1404.0 1589.4C1413.6 1575.6 1418.8 1568.3 1425.5 1557.0C1432.2 1545.7 1439.0 1533.5 1444.5 1521.7C1450.0 1509.9 1454.2 1498.7 1458.8 1486.0C1463.3 1473.3 1468.3 1458.3 1471.8 1445.6C1475.3 1432.9 1477.6 1421.9 1480.0 1410.0C1482.4 1398.1 1484.6 1385.5 1486.0 1374.4C1487.4 1363.3 1488.5 1352.6 1488.5 1343.5C1488.5 1334.4 1487.8 1328.5 1486.0 1319.8C1484.2 1311.0 1481.5 1299.3 1477.8 1291.0C1474.0 1282.7 1469.8 1276.7 1463.5 1270.0C1457.2 1263.3 1448.5 1255.9 1439.8 1250.9C1431.0 1245.9 1421.7 1242.3 1411.0 1240.0C1400.3 1237.7 1387.4 1236.6 1375.6 1237.0C1363.8 1237.4 1354.1 1239.5 1340.0 1242.6C1325.9 1245.7 1305.0 1252.0 1291.2 1255.6C1277.5 1259.2 1266.2 1262.1 1257.5 1264.0C1248.8 1265.9 1244.4 1267.7 1238.8 1266.9C1233.1 1266.1 1227.8 1262.8 1223.8 1259.4C1219.7 1256.0 1216.9 1251.6 1214.4 1246.2C1211.9 1240.9 1210.5 1235.3 1208.8 1227.5C1207.0 1219.7 1205.7 1210.3 1204.0 1199.4C1202.3 1188.5 1200.3 1174.5 1198.4 1162.0C1196.5 1149.5 1194.8 1136.9 1192.8 1124.4C1190.8 1111.9 1188.4 1099.2 1186.2 1087.0C1184.1 1074.8 1182.2 1065.8 1179.7 1051.2C1177.2 1036.8 1172.5 1008.5 1171.0 1000.0Z" fill="none" stroke="#d6baf9" stroke-width="34" filter="url(#bl4)" opacity="0.75"/>
<path d="M1375.6 1237.0C1381.5 1237.5 1400.3 1237.7 1411.0 1240.0C1421.7 1242.3 1431.0 1245.9 1439.8 1250.9C1448.5 1255.9 1457.2 1263.3 1463.5 1270.0C1469.8 1276.7 1474.0 1282.7 1477.8 1291.0C1481.5 1299.3 1484.2 1311.0 1486.0 1319.8C1487.8 1328.5 1488.5 1334.4 1488.5 1343.5C1488.5 1352.6 1487.4 1363.3 1486.0 1374.4C1484.6 1385.5 1482.4 1398.1 1480.0 1410.0C1477.6 1421.9 1475.3 1432.9 1471.8 1445.6C1468.3 1458.3 1463.3 1473.3 1458.8 1486.0C1454.2 1498.7 1446.9 1515.8 1444.5 1521.7" fill="none" stroke="#dcc3fb" stroke-width="58" filter="url(#bl8)" opacity="0.8"/>
<path d="M1419 1524C1414 1550 1410 1570 1407 1592L1385 1592C1398 1565 1410 1540 1419 1524Z" fill="#eadbfe" filter="url(#bl2)"/>
</g>
</g>
<rect x="10.3" y="1048.2" width="783.6" height="543.4" rx="26" fill="none" stroke="#a37ad3" stroke-width="4.4"/>
<rect x="804.2" y="1048.2" width="783" height="543.4" rx="26" fill="none" stroke="#a37ad3" stroke-width="4.4"/>
</svg>
<div class="t" id="t1" style="left:496px;top:26px;">Chin/Nose bridge/Finger</div>
<div class="t" id="t2" style="left:46px;top:419px;">Forehead/Neck/Cheek</div>
<div class="t" id="t3" style="left:1271px;top:373px;">Eye</div>
<div class="t" id="t4" style="left:108px;top:869px;">used on the back and legs</div>
<div class="t" id="t5" style="left:190.5px;top:924px;">and other parts to</div>
<div class="t" id="t6" style="left:161px;top:979px;">dredge the meridians</div>
<div class="t" id="t7" style="left:693px;top:983px;">Acupoint</div>
<div class="t" id="t8" style="left:1004.5px;top:970.3px;">Thin edge massage</div>
</body></html>
